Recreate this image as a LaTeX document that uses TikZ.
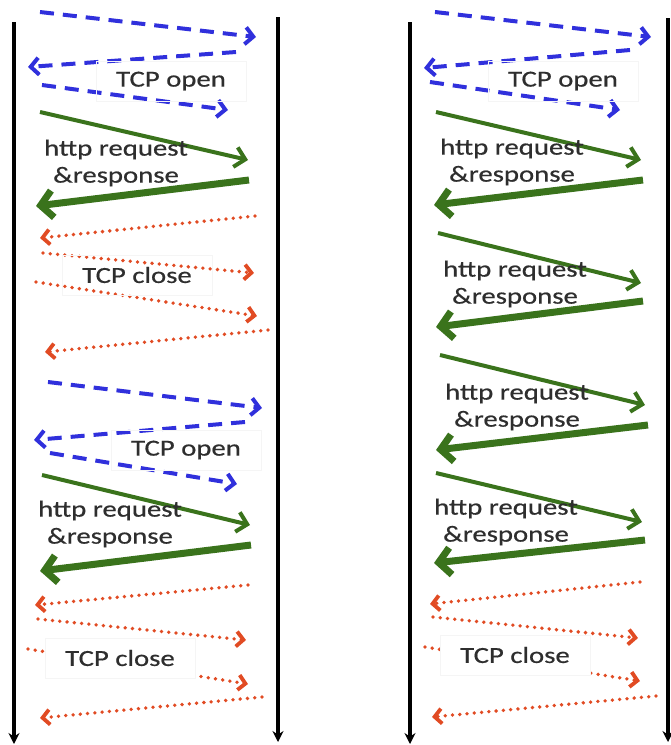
\documentclass[tikz,border=0pt]{standalone}
\usepackage{fontspec}
\newfontfamily\lblfont[FakeStretch=1.25,FakeBold=0.6]{Carlito}
\usepackage{tikz}
\usetikzlibrary{arrows.meta}
\definecolor{openblue}{RGB}{48,48,220}
\definecolor{httpgreen}{RGB}{58,115,28}
\definecolor{closered}{RGB}{225,75,35}

\begin{document}
\begin{tikzpicture}[x=1pt,y=-1pt,
  lifeline/.style={line width=4pt,-{Stealth[length=11pt,width=11pt]}},
  openmsg/.style={openblue,line width=4pt,dash pattern=on 14pt off 9pt,
    -{Straight Barb[length=8pt,width=17pt]}},
  reqmsg/.style={httpgreen,line width=4pt,-{Straight Barb[length=10pt,width=20pt]}},
  respmsg/.style={httpgreen,line width=7pt,-{Straight Barb[length=12pt,width=27pt]}},
  closemsg/.style={closered,line width=3.8pt,line cap=round,dash pattern=on 0pt off 7.3pt,
    -{Straight Barb[length=7pt,width=15pt]}},
  lbl/.style={font=\lblfont\fontsize{23}{27}\selectfont,text=black!82,align=center,inner sep=0pt},
  lblbox/.style={lbl,draw=black!4,minimum width=150pt,minimum height=40pt}]
\useasboundingbox (0,0) rectangle (671,745);

% lifelines
\draw[lifeline] (14,22) -- (14,744);
\draw[lifeline] (278,17) -- (278,742);
\draw[lifeline] (410,22) -- (410,744);
\draw[lifeline] (668,18) -- (668,742);

% left: first connection
\draw[openmsg] (40,12) -- (256,37);
\draw[openmsg] (236,52) -- (28,67);
\draw[openmsg] (42,85) -- (228,110);
\node[lblbox] (openA) at (171,81) {TCP open};
\draw[reqmsg] (40,112) -- (248,160);
\draw[respmsg] (249,180) -- (36,206);
\node[lbl] (reqA) at (116,163) {http request\\\&response};
\draw[closemsg] (255,216) -- (40,238);
\draw[closemsg] (43,253) -- (254,273);
\draw[closemsg] (36,282) -- (257,316);
\draw[closemsg] (268,330) -- (45,352);
\node[lblbox] (closeA) at (137,275) {TCP close};

% left: second connection
\draw[openmsg] (48,382) -- (262,408);
\draw[openmsg] (245,422) -- (34,440);
\draw[openmsg] (50,453) -- (237,484);
\node[lblbox] (openB) at (186,450) {TCP open};
\draw[reqmsg] (42,475) -- (250,525);
\draw[respmsg] (251,545) -- (40,571);
\node[lbl] (reqB) at (110,524) {http request\\\&response};
\draw[closemsg] (248,585) -- (35,605);
\draw[closemsg] (38,619) -- (246,640);
\draw[closemsg] (28,649) -- (248,684);
\node[lblbox,fill=white] (closeB) at (120,658) {TCP close};
\draw[closemsg] (262,697) -- (40,718);

% right: one persistent connection
\draw[openmsg] (435,12) -- (651,37);
\draw[openmsg] (630,50) -- (424,68);
\draw[openmsg] (430,82) -- (620,110);
\node[lblbox] (openC) at (563,81) {TCP open};
\draw[reqmsg] (436,112) -- (641,160);
\draw[respmsg] (643,180) -- (434,205);
\node[lbl] (reqC) at (512,162) {http request\\\&response};
\draw[reqmsg] (438,233) -- (641,283);
\draw[respmsg] (643,301) -- (436,327);
\node[lbl] (reqD) at (515,284) {http request\\\&response};
\draw[reqmsg] (440,355) -- (645,405);
\draw[respmsg] (648,425) -- (436,450);
\node[lbl] (reqE) at (517,407) {http request\\\&response};
\draw[reqmsg] (436,473) -- (642,522);
\draw[respmsg] (645,540) -- (434,563);
\node[lbl] (reqF) at (506,522) {http request\\\&response};
\draw[closemsg] (640,582) -- (430,604);
\draw[closemsg] (433,617) -- (638,638);
\draw[closemsg] (425,647) -- (640,681);
\node[lblbox,fill=white] (closeC) at (515,655) {TCP close};
\draw[closemsg] (656,696) -- (432,717);
\end{tikzpicture}
\end{document}
